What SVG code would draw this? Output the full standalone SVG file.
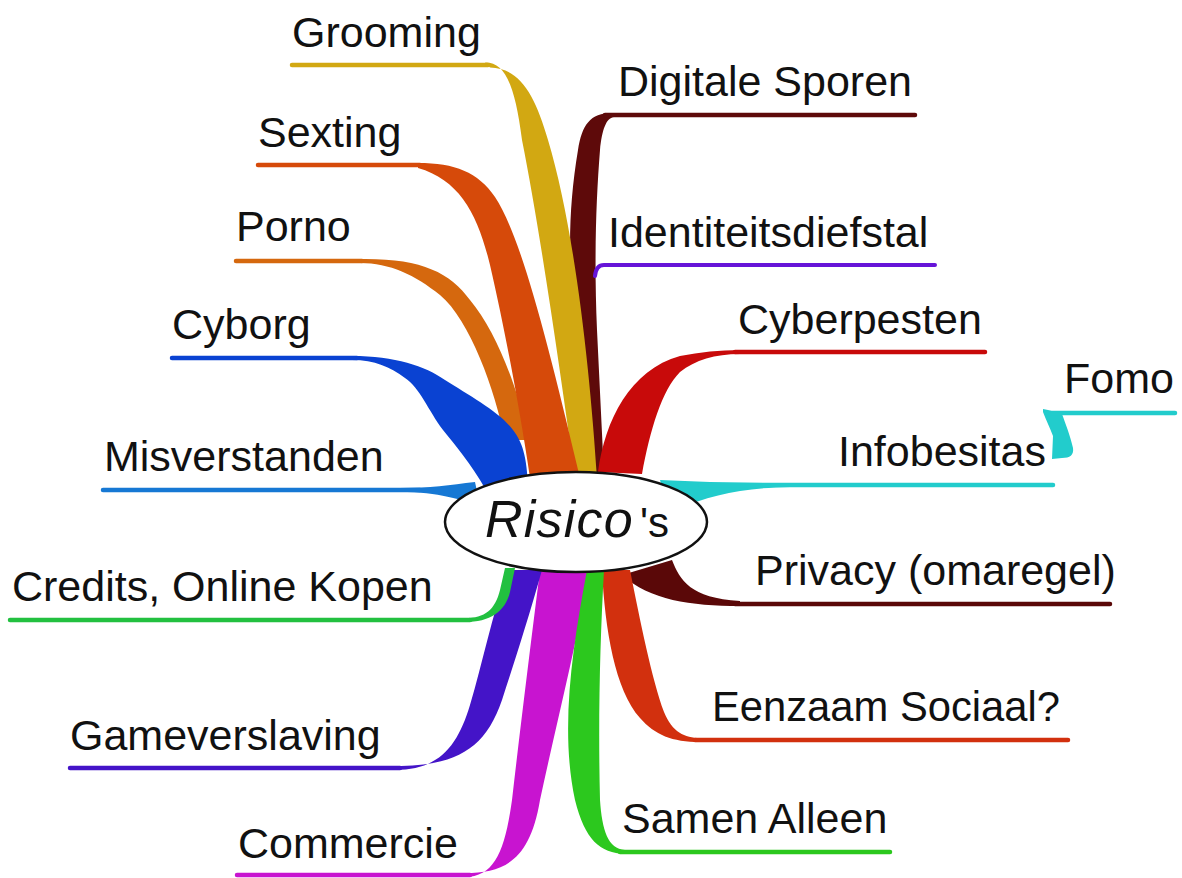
<svg xmlns="http://www.w3.org/2000/svg" width="1182" height="878" viewBox="0 0 1182 878">
<style>
.lbl{font-family:"Liberation Sans",Arial,sans-serif;font-size:43px;fill:#111}
.ul{fill:none;stroke-width:4.5;stroke-linecap:round}
</style>
<rect width="1182" height="878" fill="#fff"/>
<g id="connectors">
  <!-- Digitale Sporen -->
  <path fill="#5E0A0A" d="M612,113 C590,113 582,125 578,150 C568,210 568,260 575,330 L590,475 L604,475 L597,330 C594,260 596,200 600,150 C602,130 606,118 614,117 Z"/>
  <line class="ul" stroke="#5E0A0A" x1="605" y1="115" x2="915" y2="115"/>
  <!-- Grooming -->
  <path fill="#D2A812" d="M485,62.5 C505,62 515,85 522,140 C540,230 560,370 575,478 L597,478 C590,370 575,230 548,140 C535,95 520,68 490,67.5 Z"/>
  <line class="ul" stroke="#D2A812" x1="292" y1="65" x2="488" y2="65"/>
  <!-- Porno -->
  <path fill="#D5680E" d="M360,259 C420,258 450,272 470,300 C495,330 515,380 530,440 L505,440 C495,390 470,320 440,295 C415,275 390,263 360,263 Z"/>
  <line class="ul" stroke="#D5680E" x1="236" y1="261" x2="362" y2="261"/>
  <!-- Sexting -->
  <path fill="#D64A0A" d="M418,163 C455,163 478,172 495,197 C520,235 545,330 580,478 L530,478 C520,410 505,330 490,265 C478,215 460,180 418,168 Z"/>
  <line class="ul" stroke="#D64A0A" x1="258" y1="165" x2="420" y2="165"/>
  <!-- Cyborg -->
  <path fill="#0A42D2" d="M352,356 C395,356 425,366 445,380 C470,396 500,412 513,430 C522,442 527,455 528,490 L486,490 C470,462 455,445 443,430 C428,410 420,388 405,378 C390,367 375,360 352,360 Z"/>
  <line class="ul" stroke="#0A42D2" x1="172" y1="358" x2="357" y2="358"/>
  <!-- Misverstanden -->
  <path fill="#1678D4" d="M400,488 C430,488 450,485 475,482 L480,505 C460,500 440,492 400,492 Z"/>
  <line class="ul" stroke="#1678D4" x1="103" y1="490" x2="420" y2="490"/>
  <!-- Cyberpesten -->
  <path fill="#C80A0A" d="M598,472 C605,420 630,370 680,356 C700,352 720,350 740,350 L740,354 C715,354 695,360 680,372 C662,390 650,430 642,474 Z"/>
  <line class="ul" stroke="#C80A0A" x1="735" y1="352" x2="985" y2="352"/>
  <!-- Identiteitsdiefstal -->
  <path fill="none" stroke="#6614D8" stroke-width="4" stroke-linecap="round" d="M935,265 L604,265 Q596,265 595,276"/>
  <!-- Infobesitas -->
  <path fill="#22CCCC" d="M660,480 C700,482 740,483 790,483 L790,487 C740,488 710,495 670,512 Z"/>
  <line class="ul" stroke="#22CCCC" x1="700" y1="485" x2="1053" y2="485"/>
  <!-- Fomo -->
  <path fill="#22CCCC" d="M1043,409 L1048,410 L1062,414 C1066,425 1070,435 1073,448 C1074,455 1070,458 1062,458 L1052,459 L1053,436 C1050,428 1046,420 1043,412 Z"/>
  <line class="ul" stroke="#22CCCC" x1="1048" y1="413" x2="1175" y2="413"/>
  <!-- Privacy -->
  <path fill="#5A0808" d="M672,560 C680,580 690,598 740,601 L740,606 C690,606 650,600 622,575 Z"/>
  <line class="ul" stroke="#5A0808" x1="735" y1="604" x2="1110" y2="604"/>
  <!-- Eenzaam Sociaal? -->
  <path fill="#D2300E" d="M602,570 C605,630 615,690 640,718 C655,735 672,742 700,742 L700,738 C685,738 672,732 664,712 C652,680 640,620 630,570 Z"/>
  <line class="ul" stroke="#D2300E" x1="695" y1="740" x2="1068" y2="740"/>
  <!-- Commercie -->
  <path fill="#C814D0" d="M465,877 C495,877 505,850 512,800 C520,730 530,650 540,570 L590,570 C575,650 555,730 540,800 C530,860 505,873 465,873 Z"/>
  <line class="ul" stroke="#C814D0" x1="237" y1="875" x2="470" y2="875"/>
  <!-- Samen Alleen -->
  <path fill="#2CC81E" d="M587,570 C572,650 560,730 575,800 C585,840 600,853 625,854 L625,850 C608,849 602,830 600,800 C598,720 600,640 604,570 Z"/>
  <line class="ul" stroke="#2CC81E" x1="620" y1="852" x2="890" y2="852"/>
  <!-- Gameverslaving -->
  <path fill="#4414C8" d="M395,770 C440,770 458,745 470,705 C482,665 492,615 508,570 L542,570 C528,620 515,660 502,700 C485,750 455,766 395,766 Z"/>
  <line class="ul" stroke="#4414C8" x1="70" y1="768" x2="400" y2="768"/>
  <!-- Credits -->
  <path fill="#22C040" d="M465,618 C485,618 495,610 500,590 L505,568 L515,568 L510,592 C505,612 490,622 465,622 Z"/>
  <line class="ul" stroke="#22C040" x1="10" y1="620" x2="470" y2="620"/>
</g>
<g id="center">
  <ellipse cx="576" cy="522" rx="131" ry="50" fill="#fff" stroke="#111" stroke-width="2.5"/>
  <text x="485" y="537" font-family="Liberation Sans, Arial, sans-serif" font-size="52" font-style="italic" fill="#111" letter-spacing="1.2">Risico</text>
  <text x="640" y="537" font-family="Liberation Sans, Arial, sans-serif" font-size="42" fill="#111">'s</text>
</g>
<g id="n-grooming"><text class="lbl" x="292" y="47">Grooming</text></g>
<g id="n-digitale"><text class="lbl" x="618" y="96">Digitale Sporen</text></g>
<g id="n-sexting"><text class="lbl" x="258" y="147">Sexting</text></g>
<g id="n-identiteit"><text class="lbl" x="608" y="247">Identiteitsdiefstal</text></g>
<g id="n-porno"><text class="lbl" x="236" y="241">Porno</text></g>
<g id="n-cyborg"><text class="lbl" x="172" y="339">Cyborg</text></g>
<g id="n-cyberpesten"><text class="lbl" x="738" y="334">Cyberpesten</text></g>
<g id="n-fomo"><text class="lbl" x="1064" y="393">Fomo</text></g>
<g id="n-infobesitas"><text class="lbl" x="838" y="466">Infobesitas</text></g>
<g id="n-misverstanden"><text class="lbl" x="104" y="471">Misverstanden</text></g>
<g id="n-privacy"><text class="lbl" x="755" y="585">Privacy (omaregel)</text></g>
<g id="n-credits"><text class="lbl" x="12" y="601">Credits, Online Kopen</text></g>
<g id="n-eenzaam"><text class="lbl" x="712" y="721" textLength="348" lengthAdjust="spacingAndGlyphs">Eenzaam Sociaal?</text></g>
<g id="n-gameverslaving"><text class="lbl" x="70" y="750">Gameverslaving</text></g>
<g id="n-samen"><text class="lbl" x="622" y="833">Samen Alleen</text></g>
<g id="n-commercie"><text class="lbl" x="238" y="858">Commercie</text></g>
</svg>
